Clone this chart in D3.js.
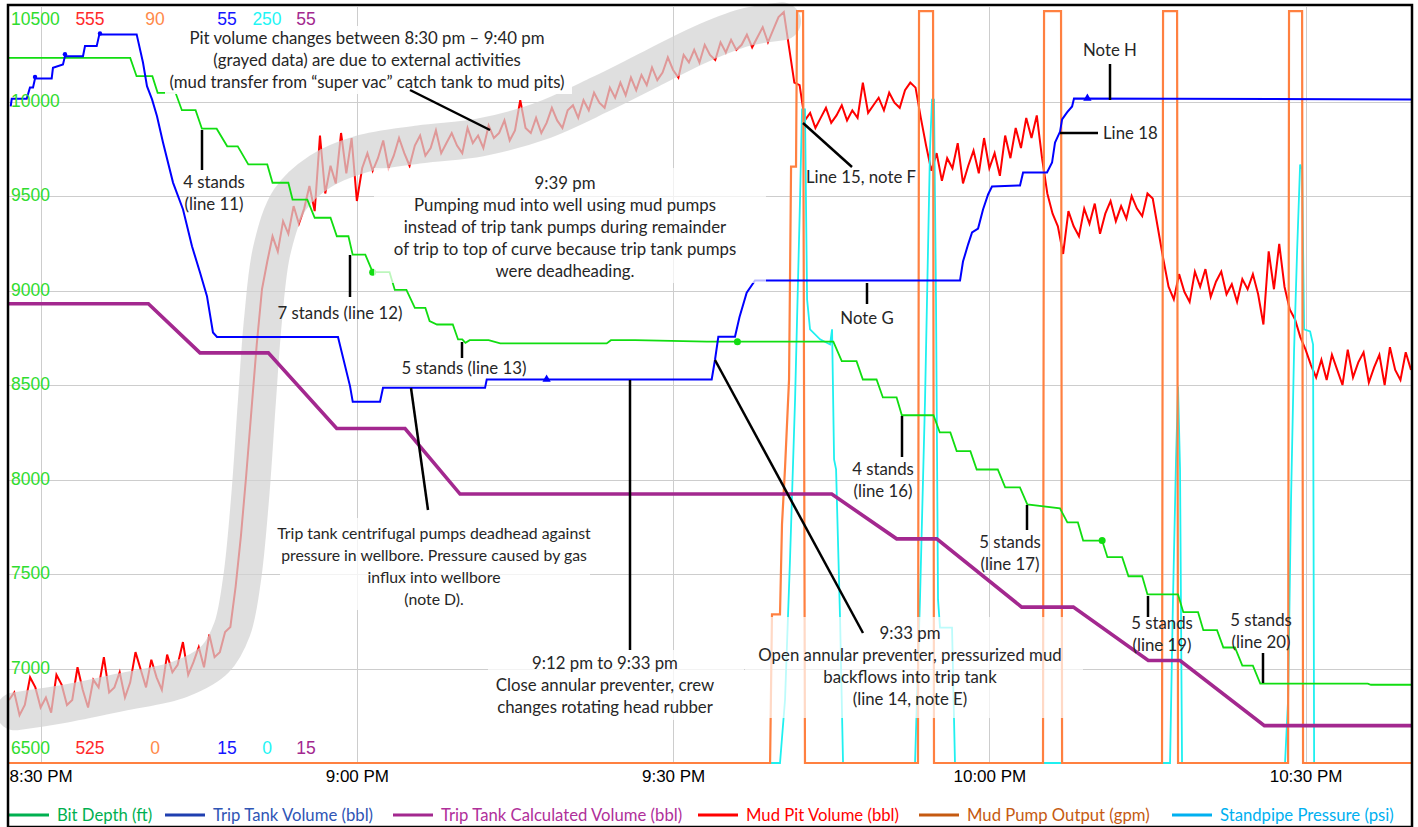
<!DOCTYPE html>
<meta charset="utf-8">
<style>
    body { margin: 0; background: #fff; }
    svg { display: block; }
    .grid line { stroke: #cdcdcd; stroke-width: 1; }
    .note text { fill: #262626; font-family: Lato, "Open Sans", sans-serif; font-size: 16.8px; }
    .note text.small { font-size: 15.8px; }
    .leader { stroke: #000; stroke-width: 2.5; }
    .scale-lbl { font-family: "Liberation Sans", Arial, sans-serif; font-size: 17.5px; }
    .xaxis text { font-family: "Liberation Sans", Arial, sans-serif; font-size: 17px; fill: #000; }
    .legend text { font-family: Lato, "Open Sans", sans-serif; font-size: 16.7px; }
</style>
<svg width="1418" height="827"></svg>
<script src="https://cdn.jsdelivr.net/npm/d3@7"></script>
<script>

    // ---- data (time = minutes after 8:00 PM) ----

    // bit depth, ft
    var bitDepth = [
        [27, 10231], [38.5, 10231], [39.1, 10134], [40.6, 10134], [41.1, 10046], [42.8, 10046],
        [43.4, 9954], [44.7, 9954], [45.3, 9856], [46.7, 9856], [47.7, 9763], [48.7, 9763],
        [49.7, 9667], [51.5, 9667], [52.0, 9570], [53.5, 9570], [53.9, 9481], [55.3, 9481],
        [56.0, 9385], [57.5, 9385], [58.1, 9287], [59.2, 9287], [59.6, 9190], [60.8, 9190],
        [61.5, 9097], [63.1, 9097], [63.6, 9003], [64.7, 9003], [65.5, 8908], [66.5, 8908],
        [66.9, 8838], [67.6, 8820], [69.1, 8820], [69.6, 8741], [70.0, 8741], [70.3, 8723],
        [70.7, 8737], [72.5, 8737], [73.6, 8720], [83.7, 8720], [84.1, 8737], [86.4, 8737],
        [93.2, 8729], [96.1, 8729], [105.2, 8729], [106.0, 8626], [107.4, 8626], [108.0, 8529],
        [109.3, 8529], [109.9, 8434], [111.2, 8434], [111.7, 8340], [114.7, 8340], [115.3, 8249],
        [116.3, 8249], [116.9, 8150], [118.2, 8150], [118.8, 8053], [120.8, 8053], [121.5, 7958],
        [122.9, 7958], [123.6, 7868], [126.7, 7847], [127.4, 7773], [128.4, 7773], [128.9, 7677],
        [130.7, 7677], [131.2, 7589], [132.6, 7589], [133.2, 7488], [134.5, 7488], [135.0, 7392],
        [137.9, 7392], [138.4, 7298], [139.8, 7298], [140.3, 7203], [141.6, 7203], [142.2, 7111],
        [143.3, 7111], [144.0, 7015], [145.0, 7015], [145.7, 6920], [155.9, 6920], [156.2, 6914],
        [160, 6914]
    ];
    var bitMarks = [[61.5, 9097], [96.1, 8729], [130.7, 7677]];

    // trip tank volume, bbl
    var tripTank = [
        [27.16, 49.74], [27.26, 50.14], [28.68, 50.14], [28.99, 50.74], [29.28, 50.74], [29.47, 51.22],
        [31.05, 51.22], [31.17, 51.78], [32.12, 51.96], [32.31, 52.40], [34.02, 52.40], [34.21, 52.93],
        [35.32, 52.93], [35.57, 53.55], [39.11, 53.55], [39.71, 52.06], [40.09, 50.81], [40.57, 50.11],
        [41.04, 49.22], [41.61, 47.83], [42.56, 45.71], [43.51, 44.29], [44.36, 42.34], [45.12, 40.95],
        [45.78, 39.70], [46.35, 37.78], [46.73, 37.54], [58.21, 37.54], [59.35, 34.94], [59.61, 34.11],
        [62.20, 34.11], [62.48, 34.85], [72.16, 34.85], [72.32, 35.29], [93.66, 35.29], [93.98, 36.35],
        [94.29, 37.55], [95.87, 37.55], [96.3, 38.6], [96.98, 39.88], [97.77, 40.53], [117.22, 40.53],
        [117.50, 41.53], [117.98, 42.43], [118.36, 43.07], [118.93, 43.28], [119.40, 44.29], [119.88, 45.08],
        [120.25, 45.50], [122.91, 45.56], [123.20, 46.24], [125.47, 46.24], [125.95, 46.77], [126.23, 47.83],
        [126.71, 48.41], [126.90, 49.05], [127.37, 49.42], [127.85, 49.74], [128.03, 50.16], [160, 50.11]
    ];
    var tripDots = [[29.47, 51.3], [32.31, 52.5], [35.63, 53.6]];
    var tripTriangles = [[78.0, 35.25], [129.3, 50.11]];

    // trip tank calculated volume, bbl
    var tripCalc = [
        [27, 39.30], [40.22, 39.30], [45.12, 36.70], [51.60, 36.70], [58.09, 32.70], [64.57, 32.70],
        [69.79, 29.23], [105.05, 29.23], [111.21, 26.86], [115.01, 26.86], [123.07, 23.25], [127.97, 23.25],
        [135.08, 20.42], [138.09, 20.42], [146.09, 16.98], [160, 16.98]
    ];

    // mud pit volume, bbl, logged every 30 s from 8:27 PM
    var pitStart = 27, pitStep = 0.5;
    var pitVolume = [
        527.5, 527.8, 526.9, 527.3, 528.4, 528.0, 527.2, 527.6, 527.0, 528.5,
        528.1, 527.3, 527.5, 528.8, 527.9, 527.2, 528.3, 528.0, 529.2, 527.8,
        528.0, 528.6, 527.6, 528.2, 529.4, 528.7, 528.0, 529.1, 528.4, 527.9,
        529.3, 528.6, 528.9, 529.8, 528.5, 529.0, 529.6, 528.8, 530.1, 529.2,
        529.4, 530.2, 530.4, 532.0, 534.0, 536.4, 539.0, 541.6, 543.8, 544.9,
        545.9, 545.3, 546.5, 546.0, 547.1, 546.4, 547.0, 547.9, 546.9, 549.9,
        547.6, 548.7, 548.0, 550.0, 548.4, 549.8, 547.3, 548.6, 549.2, 548.5,
        549.0, 549.7, 548.6, 549.1, 549.8, 549.2, 548.7, 549.5, 549.9, 549.1,
        549.4, 550.1, 549.2, 549.6, 550.0, 549.5, 549.2, 550.2, 549.6, 549.9,
        549.4, 550.3, 549.8, 550.0, 550.5, 549.7, 550.1, 551.3, 550.2, 550.0,
        550.6, 550.0, 550.4, 551.0, 550.5, 550.2, 550.9, 551.1, 550.6, 551.3,
        550.9, 551.6, 551.2, 551.0, 551.8, 551.4, 552.0, 551.5, 552.2, 551.7,
        552.3, 551.9, 552.6, 552.1, 552.4, 553.0, 552.5, 552.2, 553.1, 552.8,
        553.3, 552.8, 553.5, 553.1, 552.9, 553.6, 553.2, 553.7, 553.3, 553.5,
        553.9, 553.4, 553.8, 554.2, 553.6, 554.1, 554.6, 554.8, 553.4, 552.0,
        551.9, 550.5, 550.8, 550.2, 550.6, 551.0, 550.4, 550.7, 551.1, 550.5,
        550.9, 550.6, 552.0, 550.8, 551.1, 551.4, 550.9, 551.6, 551.2, 551.0,
        551.7, 552.0, 551.8, 550.6, 549.5, 548.5, 549.2, 548.1, 549.0, 548.6,
        549.6, 548.0, 548.7, 549.3, 548.4, 549.8, 548.6, 549.2, 548.3, 549.9,
        549.0, 550.2, 549.4, 550.6, 549.8, 550.7, 549.0, 547.6, 546.8, 546.3,
        545.2, 546.9, 546.3, 545.9, 547.0, 546.4, 547.2, 546.0, 546.8, 547.3,
        546.5, 547.1, 546.6, 547.5, 547.0, 546.7, 547.6, 547.4, 546.2, 545.0,
        543.9, 543.4, 544.4, 543.7, 543.3, 544.5, 543.9, 544.6, 543.5, 544.1,
        544.5, 543.6, 544.0, 543.3, 544.2, 543.8, 544.4, 543.6, 542.4, 545.3,
        543.8, 545.6, 543.9, 543.0, 542.6, 541.9, 541.4, 540.8, 540.3, 541.0,
        540.2, 541.2, 540.6, 540.0, 541.4, 540.3, 540.9, 541.3, 540.1, 540.7,
        541.2, 540.0, 541.5, 540.6, 540.2, 541.3, 540.6
    ];
    // the stretch affected by the mud transfer (grayed out)
    var pitGrayed = [
        [27.57, 527.05], [31.84, 527.32], [37.53, 527.80], [43.22, 528.32], [46.54, 529.11], [48.16, 530.30],
        [49.10, 532.28], [49.86, 535.46], [50.53, 539.43], [51.10, 542.60], [51.95, 545.38], [53.66, 547.36],
        [56.50, 548.47], [60.30, 549.15], [65.99, 549.55], [71.68, 549.82], [77.37, 550.46], [83.07, 551.53],
        [87.81, 552.52], [92.55, 553.51], [96.82, 554.19], [100.33, 554.43]
    ];

    // mud pump output, gpm
    var pumpOutput = [
        [27, 0], [99.2, 0], [99.38, 17.7], [100.14, 17.7], [100.33, 28.4], [100.62, 35.2], [101.0, 45.7],
        [101.19, 71.0], [101.66, 71.0], [101.76, 89.5], [102.33, 89.5], [102.51, 0],
        [113.23, 0], [113.33, 89.5], [114.66, 89.5], [114.75, 0],
        [125.09, 0], [125.19, 89.5], [126.80, 89.5], [126.90, 0],
        [136.38, 0], [136.48, 89.5], [137.81, 89.5], [137.90, 0],
        [148.34, 0], [148.43, 89.5], [149.67, 89.5], [149.76, 0], [160, 0]
    ];

    // standpipe pressure, psi
    var standpipe = [
        [27, 0], [100.14, 0], [100.62, 21.0], [101.09, 67.3], [101.57, 120.2], [102.04, 186.3], [102.23, 216.1],
        [102.51, 216.1], [102.71, 153.3], [102.99, 143.4], [103.94, 140.1], [104.89, 138.4], [105.08, 143.4],
        [105.27, 100.4], [105.46, 97.1], [105.84, 47.5], [106.12, 0],
        [112.95, 0], [113.42, 54.1], [113.90, 120.2], [114.37, 202.9], [114.56, 219.4], [114.75, 219.4],
        [114.94, 153.3], [115.13, 54.1], [115.32, 44.8], [116.46, 44.8], [116.74, 0],
        [137.14, 0], [137.42, 54.1], [137.71, 100.4], [137.90, 124.5], [138.09, 97.1], [138.28, 0],
        [148.05, 0], [148.34, 21.0], [148.62, 87.1], [148.91, 136.7], [149.20, 169.8], [149.48, 197.9],
        [149.67, 196.3], [149.86, 143.4], [150.43, 142.7], [150.71, 138.4], [150.81, 0], [160, 0]
    ];

    // axis ranges shown at the top/bottom of the plot
    var depthRange = [6500, 10500];
    var pitRange = [525, 555];
    var pumpRange = [0, 90];
    var tripRange = [15, 55];
    var sppRange = [0, 250];
    var calcRange = [15, 55];

    var legendNames = ["Bit Depth (ft)", "Trip Tank Volume (bbl)", "Trip Tank Calculated Volume (bbl)",
        "Mud Pit Volume (bbl)", "Mud Pump Output (gpm)", "Standpipe Pressure (psi)"];

    // ---- layout ----
    var svg = d3.select("svg");
    var plotL = 9, plotR = 1411, plotT = 7, plotB = 763;

    var base = new Date(2000, 0, 1, 20, 0);
    var at = function (m) { return new Date(+base + m * 60000); };

    var x = d3.scaleTime().domain([at(27), at(160)]).range([plotL, plotR]);
    var yDepth = d3.scaleLinear().domain(depthRange).range([plotB, plotT]);
    var yPit = d3.scaleLinear().domain(pitRange).range([plotB, plotT]);
    var yPump = d3.scaleLinear().domain(pumpRange).range([plotB, plotT]);
    var yTrip = d3.scaleLinear().domain(tripRange).range([plotB, plotT]);
    var ySpp = d3.scaleLinear().domain(sppRange).range([plotB, plotT]);
    var yCalc = d3.scaleLinear().domain(calcRange).range([plotB, plotT]);

    var lineFor = function (ys) {
        return d3.line().x(function (d) { return x(at(d[0])); }).y(function (d) { return ys(d[1]); });
    };

    //grid
    var grid = svg.append("g").attr("class", "grid");
    grid.selectAll(".h").data(d3.range(7000, 10001, 500)).enter().append("line")
        .attr("x1", plotL).attr("x2", plotR)
        .attr("y1", function (d) { return Math.round(yDepth(d)) + 0.5; })
        .attr("y2", function (d) { return Math.round(yDepth(d)) + 0.5; });
    var timeTicks = x.ticks(d3.timeMinute.every(30));
    grid.selectAll(".v").data(timeTicks).enter().append("line")
        .attr("y1", plotT).attr("y2", plotB)
        .attr("x1", function (d) { return Math.round(x(d)) + 0.5; })
        .attr("x2", function (d) { return Math.round(x(d)) + 0.5; });

    // mud pit volume + gray highlight over it
    var pitPoints = pitVolume.map(function (v, i) { return [pitStart + i * pitStep, v]; });
    svg.append("path").datum(pitPoints).attr("d", lineFor(yPit))
        .attr("fill", "none").attr("stroke", "#ff0000").attr("stroke-width", 2);
    svg.append("path").datum(pitGrayed).attr("d", lineFor(yPit).curve(d3.curveCatmullRom))
        .attr("fill", "none").attr("stroke", "#d2d2d2").attr("stroke-opacity", 0.72)
        .attr("stroke-width", 38).attr("stroke-linecap", "round").attr("stroke-linejoin", "round");

    svg.append("path").datum(standpipe).attr("d", lineFor(ySpp))
        .attr("fill", "none").attr("stroke", "#1ff0f0").attr("stroke-width", 1.8);
    svg.append("path").datum(pumpOutput).attr("d", lineFor(yPump))
        .attr("fill", "none").attr("stroke", "#ff8040").attr("stroke-width", 2.2);
    svg.append("path").datum(tripCalc).attr("d", lineFor(yCalc))
        .attr("fill", "none").attr("stroke", "#a3288f").attr("stroke-width", 3.6);
    svg.append("path").datum(bitDepth).attr("d", lineFor(yDepth))
        .attr("fill", "none").attr("stroke", "#11dd11").attr("stroke-width", 1.8);
    svg.append("path").datum(tripTank).attr("d", lineFor(yTrip))
        .attr("fill", "none").attr("stroke", "#0000ff").attr("stroke-width", 2);

    svg.selectAll(".bitmark").data(bitMarks).enter().append("circle")
        .attr("cx", function (d) { return x(at(d[0])); }).attr("cy", function (d) { return yDepth(d[1]); })
        .attr("r", 3.5).attr("fill", "#11dd11");
    svg.selectAll(".tripdot").data(tripDots).enter().append("circle")
        .attr("cx", function (d) { return x(at(d[0])); }).attr("cy", function (d) { return yTrip(d[1]); })
        .attr("r", 2.2).attr("fill", "#0000ff");
    svg.selectAll(".triptri").data(tripTriangles).enter().append("path")
        .attr("d", d3.symbol().type(d3.symbolTriangle).size(30))
        .attr("transform", function (d) { return "translate(" + x(at(d[0])) + "," + (yTrip(d[1]) - 1) + ")"; })
        .attr("fill", "#0000ff");

    // note boxes (semi opaque white, as in the source)
    var noteBoxes = [
        [165, 26, 407, 68, 0.92],
        [374, 168, 392, 115, 0.72],
        [280, 518, 310, 92, 0.75],
        [488, 650, 256, 70, 0.75],
        [745, 617, 338, 101, 0.7]
    ];
    svg.selectAll(".box").data(noteBoxes).enter().append("rect")
        .attr("x", function (d) { return d[0]; }).attr("y", function (d) { return d[1]; })
        .attr("width", function (d) { return d[2]; }).attr("height", function (d) { return d[3]; })
        .attr("fill", "#fff").attr("fill-opacity", function (d) { return d[4]; });

    // leader lines
    var leaders = [
        [410, 90, 490, 130], [202, 130, 202, 170], [350, 255, 350, 297], [462, 342, 462, 358],
        [411, 388, 428, 510], [630, 380, 630, 650], [715, 360, 863, 633], [803, 123, 852, 167],
        [867, 283, 867, 304], [902, 416, 902, 457], [1027, 505, 1027, 530], [1148, 596, 1148, 617],
        [1263, 653, 1263, 683], [1110, 64, 1110, 100], [1060, 133, 1098, 133]
    ];
    svg.selectAll(".leader").data(leaders).enter().append("line").attr("class", "leader")
        .attr("x1", function (d) { return d[0]; }).attr("y1", function (d) { return d[1]; })
        .attr("x2", function (d) { return d[2]; }).attr("y2", function (d) { return d[3]; });

    // notes: [x, y of first line, anchor, lines, class]
    var notes = [
        [367, 38, "middle", ["Pit volume changes between 8:30 pm – 9:40 pm", "(grayed data) are due to external activities", "(mud transfer from “super vac” catch tank to mud pits)"]],
        [565, 183, "middle", ["9:39 pm", "Pumping mud into well using mud pumps", "instead of trip tank pumps during remainder", "of trip to top of curve because trip tank pumps", "were deadheading."]],
        [214, 182, "middle", ["4 stands", "(line 11)"]],
        [340, 313, "middle", ["7 stands (line 12)"]],
        [464, 368, "middle", ["5 stands (line 13)"]],
        [434, 533, "middle", ["Trip tank centrifugal pumps deadhead against", "pressure in wellbore. Pressure caused by gas", "influx into wellbore", "(note D)."], "small"],
        [605, 663, "middle", ["9:12 pm to 9:33 pm", "Close annular preventer, crew", "changes rotating head rubber"]],
        [910, 633, "middle", ["9:33 pm", "Open annular preventer, pressurized mud", "backflows into trip tank", "(line 14, note E)"]],
        [867, 318, "middle", ["Note G"]],
        [883, 469, "middle", ["4 stands", "(line 16)"]],
        [1010, 542, "middle", ["5 stands", "(line 17)"]],
        [1162, 623, "middle", ["5 stands", "(line 19)"]],
        [1261, 620, "middle", ["5 stands", "(line 20)"]],
        [806, 177, "start", ["Line 15, note F"]],
        [1110, 50, "middle", ["Note H"]],
        [1103, 133, "start", ["Line 18"]]
    ];
    var noteG = svg.append("g").attr("class", "note");
    notes.forEach(function (n) {
        var t = noteG.append("text").attr("text-anchor", n[2]).attr("class", n[4] || null);
        n[3].forEach(function (s, i) {
            t.append("tspan").attr("x", n[0]).attr("y", n[1] + i * 22).attr("dy", "0.35em").text(s);
        });
    });

    // scale min/max labels
    var scaleCols = [
        {r: depthRange, c: "#2fdc2f", x: 11, a: "start"},
        {r: pitRange, c: "#ff2a2a", x: 90, a: "middle"},
        {r: pumpRange, c: "#ff8a4a", x: 155, a: "middle"},
        {r: tripRange, c: "#1414ff", x: 227, a: "middle"},
        {r: sppRange, c: "#1ff5f5", x: 267, a: "middle"},
        {r: calcRange, c: "#a3288f", x: 306, a: "middle"}
    ];
    scaleCols.forEach(function (s) {
        svg.append("text").attr("class", "scale-lbl").attr("x", s.x).attr("y", 19).attr("dy", "0.35em")
            .attr("text-anchor", s.a).attr("fill", s.c).text(s.r[1]);
        svg.append("text").attr("class", "scale-lbl").attr("x", s.x).attr("y", 748).attr("dy", "0.35em")
            .attr("text-anchor", s.a).attr("fill", s.c).text(s.r[0]);
    });
    svg.selectAll(".dlab").data(d3.range(7000, 10001, 500)).enter().append("text")
        .attr("class", "scale-lbl").attr("x", 11).attr("y", function (d) { return yDepth(d) - 1; })
        .attr("dy", "0.35em").attr("fill", "#2fdc2f").text(function (d) { return d; });

    // time axis
    var xAxis = d3.axisBottom(x).ticks(d3.timeMinute.every(30))
        .tickFormat(d3.timeFormat("%-I:%M %p")).tickSize(0).tickPadding(7);
    var gx = svg.append("g").attr("class", "xaxis").attr("transform", "translate(0," + plotB + ")").call(xAxis);
    gx.select(".domain").remove();
    gx.selectAll("text").attr("font-family", null).attr("font-size", null);

    // legend
    var legendLine = ["#00b050", "#1f3fb0", "#a3288f", "#ff0000", "#c55a11", "#00b0f0"];
    var legendText = ["#00b050", "#2f55b5", "#b0309a", "#ff0000", "#c55a11", "#00b0f0"];
    var legendX = [9, 165, 393, 698, 919, 1172];
    var lg = svg.append("g").attr("class", "legend");
    legendNames.forEach(function (name, i) {
        lg.append("line").attr("x1", legendX[i]).attr("x2", legendX[i] + 40)
            .attr("y1", 815).attr("y2", 815).attr("stroke", legendLine[i]).attr("stroke-width", 3);
        lg.append("text").attr("x", legendX[i] + 48).attr("y", 815).attr("dy", "0.35em")
            .attr("fill", legendText[i]).text(name);
    });

    // outer frame
    svg.append("rect").attr("x", 8).attr("y", 5).attr("width", 1404).attr("height", 822)
        .attr("fill", "none").attr("stroke", "#000").attr("stroke-width", 2.5);

</script>
